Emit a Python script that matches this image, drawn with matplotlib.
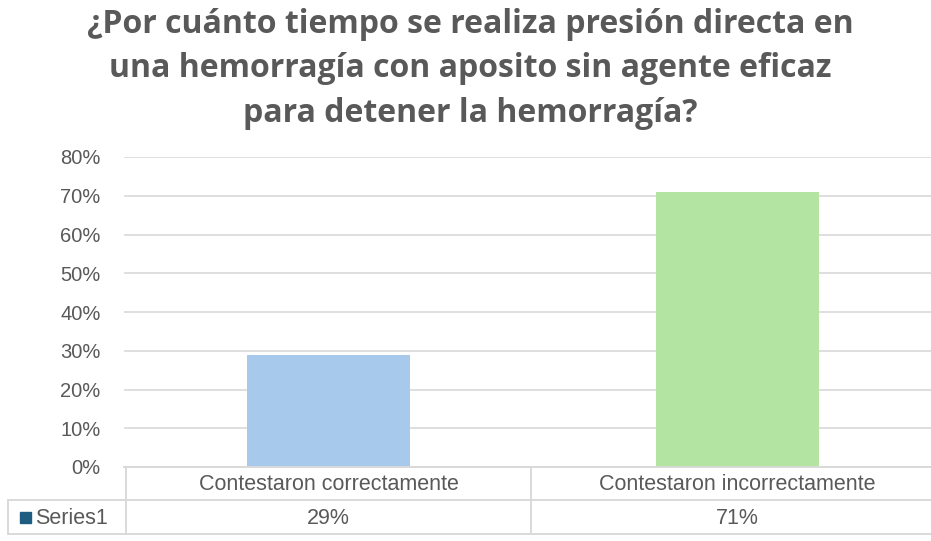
import matplotlib
matplotlib.use("Agg")
import matplotlib.pyplot as plt
from matplotlib.lines import Line2D
from matplotlib.patches import Rectangle
from matplotlib.ticker import PercentFormatter


TITLE = ("¿Por cuánto tiempo se realiza presión directa en\n"
         "una hemorragía con aposito sin agente eficaz\n"
         "para detener la hemorragía?")
CATEGORIES = ["Contestaron correctamente", "Contestaron incorrectamente"]
VALUES = [29, 71]
VALUE_LABELS = ["29%", "71%"]
SERIES_NAME = "Series1"
Y_TICKS = [0, 10, 20, 30, 40, 50, 60, 70, 80]

BAR_COLORS = ["#a7c9ec", "#b4e4a2"]
LEGEND_COLOR = "#1f5c82"
GRID_COLOR = "#d9d9d9"
TEXT_COLOR = "#595959"

W, H = 931, 541


def fx(px):
    return px / W


def fy(py):
    return 1 - py / H


def main() -> None:
    fig = plt.figure(figsize=(W / 100, H / 100), dpi=100)
    fig.patch.set_facecolor("white")

    ax = fig.add_axes([fx(124), fy(467), fx(942 - 124), fy(157) - fy(467)])
    x = list(range(len(CATEGORIES)))
    ax.bar(x, VALUES, width=0.4, color=BAR_COLORS, zorder=3)

    ax.set_xlim(-0.5, len(CATEGORIES) - 0.5)
    ax.set_ylim(0, 80)
    ax.set_yticks(Y_TICKS)
    ax.yaxis.set_major_formatter(PercentFormatter(decimals=0))
    ax.tick_params(axis="y", length=0, pad=17, labelsize=14.5, labelcolor=TEXT_COLOR)
    ax.tick_params(axis="x", length=0, labelbottom=False)
    for label in ax.get_yticklabels():
        label.set_fontfamily("Liberation Sans")
    ax.grid(axis="y", color=GRID_COLOR, linewidth=1.2, zorder=0)
    for spine in ax.spines.values():
        spine.set_visible(False)

    fig.text(fx(470), fy(8), TITLE, ha="center", va="top", fontsize=23,
             fontweight="bold", color=TEXT_COLOR, family="Open Sans",
             linespacing=1.45)

    # data table under the chart
    line_kw = dict(color=GRID_COLOR, linewidth=1.4, transform=fig.transFigure)
    fig.add_artist(Line2D([fx(124), 1], [fy(467), fy(467)], **line_kw))
    fig.add_artist(Line2D([fx(8), 1], [fy(500), fy(500)], **line_kw))
    fig.add_artist(Line2D([fx(8), 1], [fy(534), fy(534)], **line_kw))
    fig.add_artist(Line2D([fx(8), fx(8)], [fy(500), fy(534)], **line_kw))
    fig.add_artist(Line2D([fx(126), fx(126)], [fy(467), fy(534)], **line_kw))
    fig.add_artist(Line2D([fx(531), fx(531)], [fy(467), fy(534)], **line_kw))

    trans = ax.get_xaxis_transform()
    row1 = (467 - 484) / 310
    row2 = (467 - 518) / 310
    for xi, cat, val in zip(x, CATEGORIES, VALUE_LABELS):
        ax.text(xi, row1, cat, transform=trans, ha="center", va="center",
                fontsize=15.5, color=TEXT_COLOR, family="Liberation Sans")
        ax.text(xi, row2, val, transform=trans, ha="center", va="center",
                fontsize=15.5, color=TEXT_COLOR, family="Liberation Sans")

    fig.add_artist(Rectangle((fx(20), fy(523)), fx(11), fy(512) - fy(523),
                             transform=fig.transFigure, color=LEGEND_COLOR))
    fig.text(fx(35), fy(518), SERIES_NAME, ha="left", va="center", fontsize=15.5,
             color=TEXT_COLOR, family="Liberation Sans")

    fig.savefig("out.png", dpi=100)
    plt.close(fig)


if __name__ == "__main__":
    main()
